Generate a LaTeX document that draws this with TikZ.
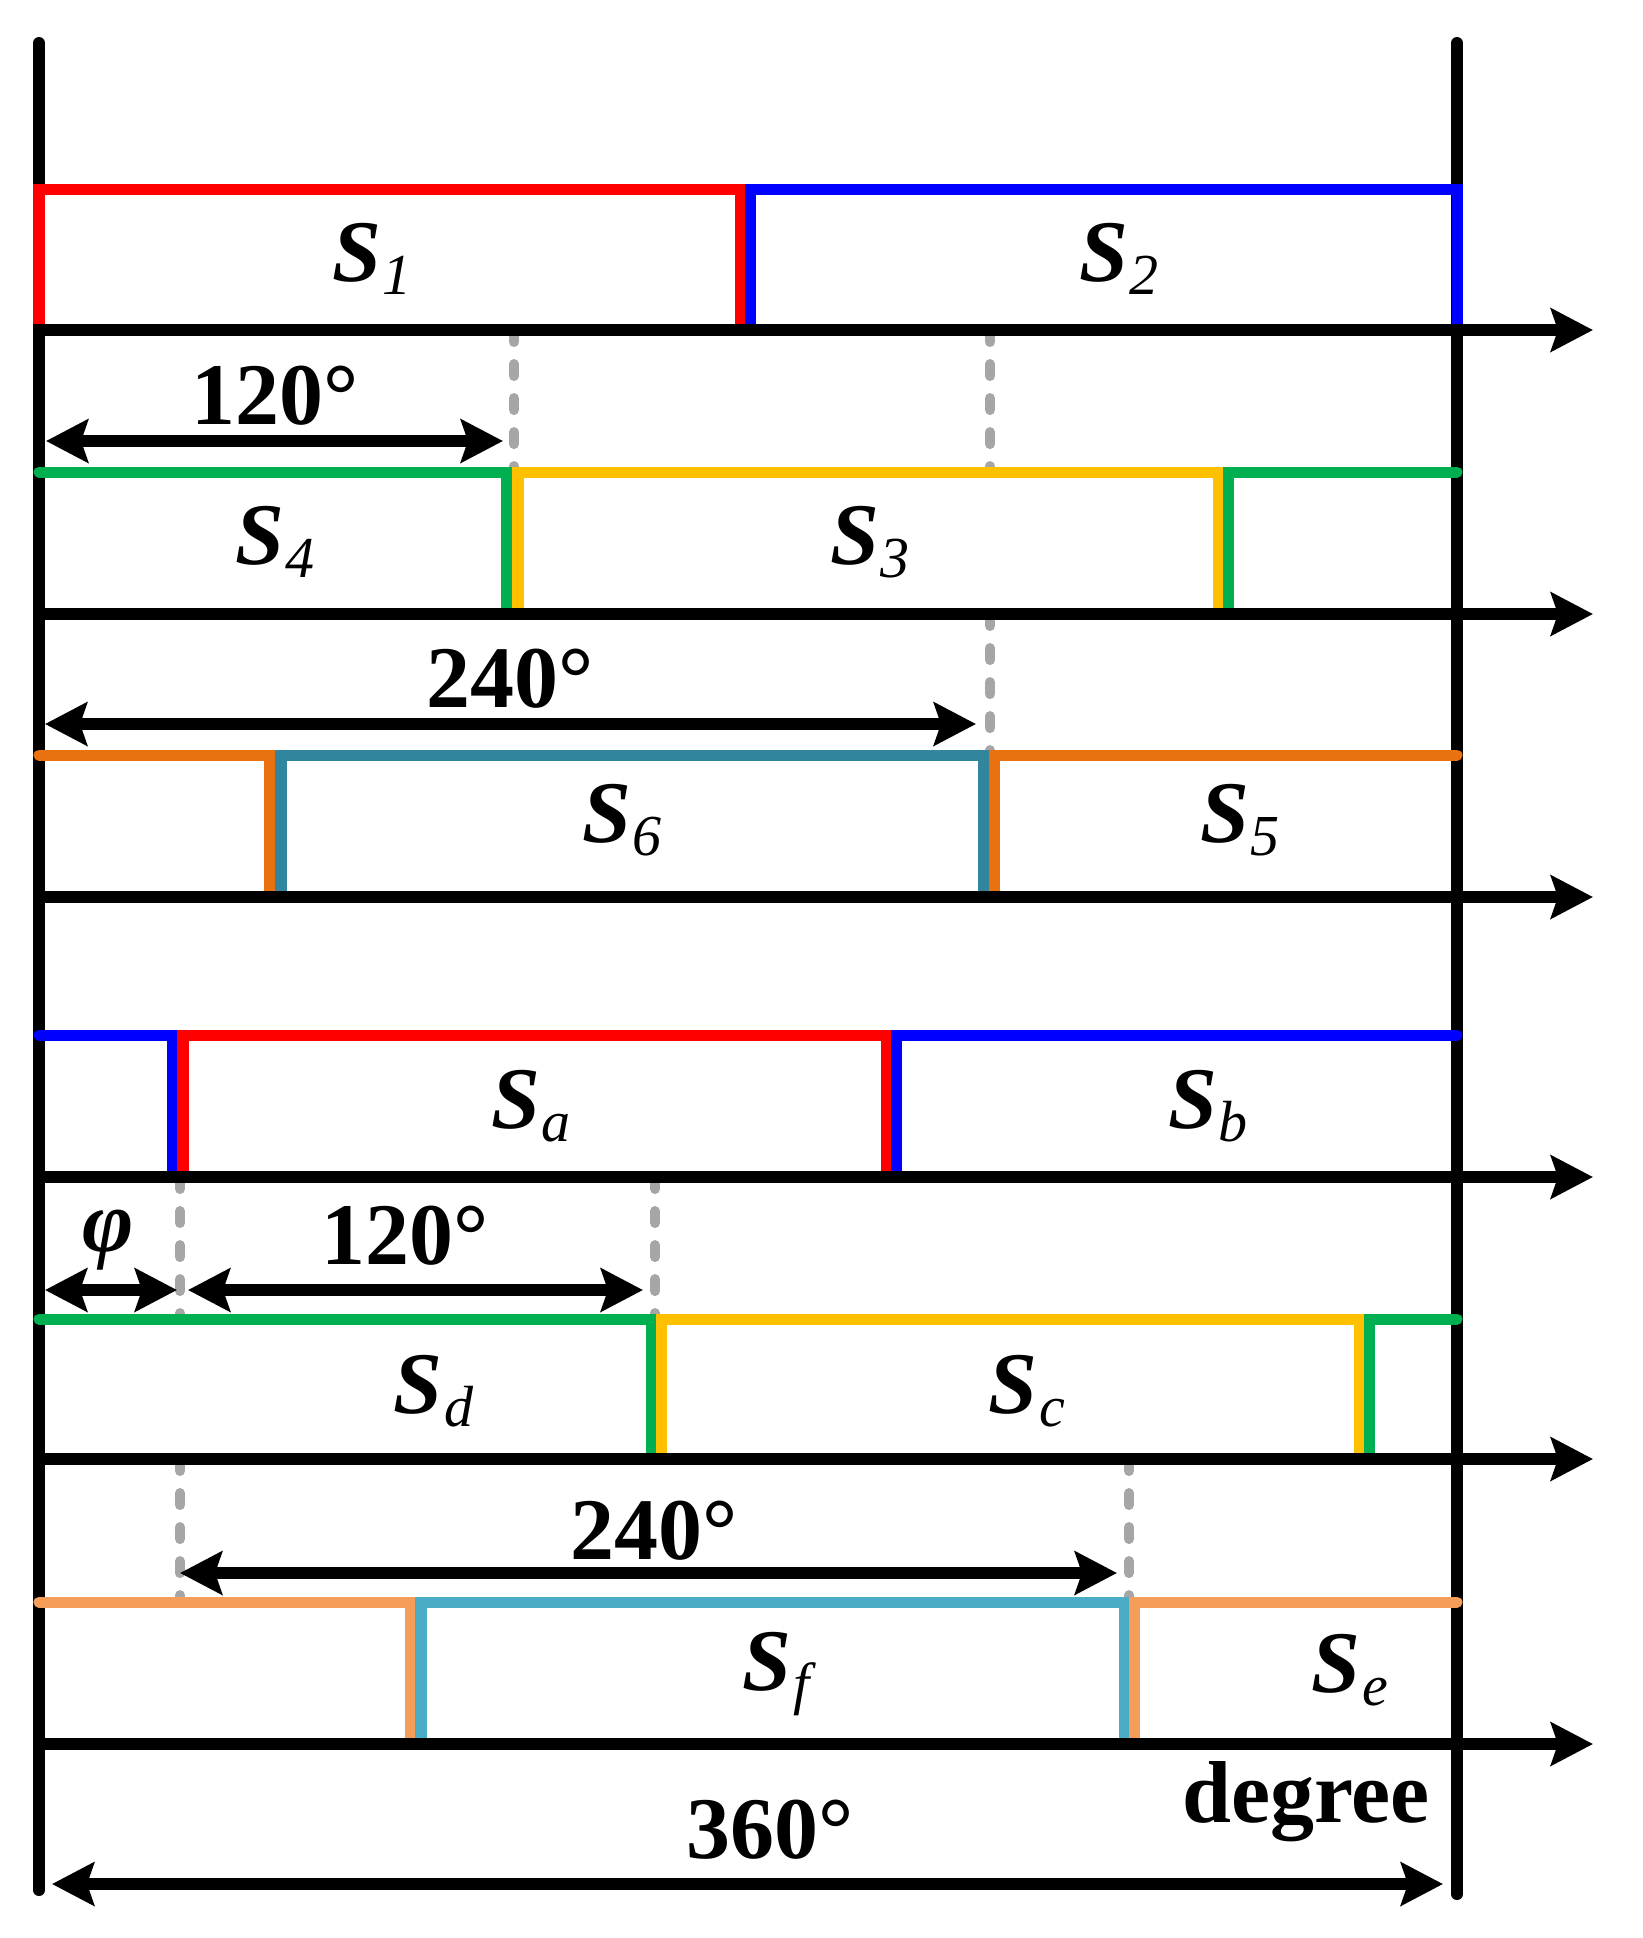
\documentclass[tikz,border=0pt]{standalone}
\usepackage{fontspec}
\setmainfont{Liberation Serif}
\usetikzlibrary{arrows.meta}
\definecolor{cred}{HTML}{FF0000}
\definecolor{cblue}{HTML}{0000FF}
\definecolor{cgreen}{HTML}{00B050}
\definecolor{cyellow}{HTML}{FFC000}
\definecolor{corange}{HTML}{EA7110}
\definecolor{cteal}{HTML}{31859C}
\definecolor{clorange}{HTML}{F59E5A}
\definecolor{ccyan}{HTML}{4BACC6}
\definecolor{cgray}{HTML}{A6A6A6}
\newcommand{\Sx}[1]{\textbf{\textit{S}}\kern0.02cm\raisebox{-0.13cm}{\fontsize{16.5}{16.5}\selectfont\textit{#1}}}
\begin{document}
\begin{tikzpicture}[x=0.01cm,y=-0.01cm,
  tip/.tip={Stealth[length=0.42cm,width=0.43cm,inset=0.07cm]},
  axisline/.style={line width=0.12cm,-tip},
  vaxis/.style={line width=0.12cm,line cap=round},
  dimline/.style={line width=0.12cm,tip-tip},
  sig/.style={line width=0.11cm,line cap=round,line join=miter},
  guide/.style={line width=0.1cm,cgray,dash pattern=on 0.12cm off 0.22cm,line cap=round},
  lbl/.style={font=\fontsize{25}{30}\selectfont,inner sep=0pt}]
\useasboundingbox (0,0) rectangle (1643,1938);
\fill[white] (0,0) rectangle (1643,1938);
% vertical axes
\coordinate (LT) at (39,43);
\coordinate (LB) at (39,1890);
\coordinate (RT) at (1457,43);
\coordinate (RB) at (1457,1894);
\draw[vaxis] (LT) -- (LB);
\draw[vaxis] (RT) -- (RB);
% guides
\draw[guide] (514,330) -- (514,472);
\draw[guide] (990,330) -- (990,472);
\draw[guide] (990,614) -- (990,755);
\draw[guide] (180,1177) -- (180,1319);
\draw[guide] (655,1177) -- (655,1319);
\draw[guide] (180,1459) -- (180,1602);
\draw[guide] (1129,1459) -- (1129,1602);
% row 1
\draw[sig,cred] (39,330) -- (39,189) -- (740,189) -- (740,330);
\draw[sig,cblue] (750,330) -- (750,189) -- (1457,189) -- (1457,330);
% row 2
\draw[sig,cgreen] (39,472) -- (507,472) -- (507,614);
\draw[sig,cyellow] (518,614) -- (518,472) -- (1218,472) -- (1218,614);
\draw[sig,cgreen] (1228,614) -- (1228,472) -- (1457,472);
% row 3
\draw[sig,corange] (39,755) -- (270,755) -- (270,897);
\draw[sig,cteal] (281,897) -- (281,755) -- (983,755) -- (983,897);
\draw[sig,corange] (994,897) -- (994,755) -- (1457,755);
% row 4
\draw[sig,cblue] (39,1035) -- (173,1035) -- (173,1177);
\draw[sig,cred] (183,1177) -- (183,1035) -- (886,1035) -- (886,1177);
\draw[sig,cblue] (896,1177) -- (896,1035) -- (1457,1035);
% row 5
\draw[sig,cgreen] (39,1319) -- (651,1319) -- (651,1459);
\draw[sig,cyellow] (661,1459) -- (661,1319) -- (1359,1319) -- (1359,1459);
\draw[sig,cgreen] (1369,1459) -- (1369,1319) -- (1457,1319);
% row 6
\draw[sig,clorange] (39,1602) -- (411,1602) -- (411,1744);
\draw[sig,ccyan] (421,1744) -- (421,1602) -- (1124,1602) -- (1124,1744);
\draw[sig,clorange] (1134,1744) -- (1134,1602) -- (1457,1602);
% horizontal axes
\foreach \n/\y in {1/330,2/614,3/897,4/1177,5/1459,6/1744}{
  \coordinate (A\n s) at (33,\y);
  \coordinate (A\n e) at (1593,\y);
  \draw[axisline] (A\n s) -- (A\n e);
}
% dimension arrows
\coordinate (D1a) at (46,441);   \coordinate (D1b) at (503,441);
\coordinate (D2a) at (45,724);   \coordinate (D2b) at (976,724);
\coordinate (D3a) at (45,1290);  \coordinate (D3b) at (177,1290);
\coordinate (D4a) at (188,1290); \coordinate (D4b) at (643,1290);
\coordinate (D5a) at (180,1573); \coordinate (D5b) at (1117,1573);
\coordinate (D6a) at (52,1884);  \coordinate (D6b) at (1443,1884);
\draw[dimline] (D1a) -- (D1b);
\draw[dimline] (D2a) -- (D2b);
\draw[dimline] (D3a) -- (D3b);
\draw[dimline] (D4a) -- (D4b);
\draw[dimline] (D5a) -- (D5b);
\draw[dimline] (D6a) -- (D6b);
% labels
\node[lbl] (t120a) at (275,396) {\textbf{120°}};
\node[lbl] (t240a) at (510,679) {\textbf{240°}};
\node[lbl] (tphi) at (108,1240) {\textbf{\textit{φ}}};
\node[lbl] (t120b) at (405,1236) {\textbf{120°}};
\node[lbl] (t240b) at (654,1531) {\textbf{240°}};
\node[lbl] (t360) at (770,1830) {\textbf{360°}};
\node[lbl] (tdeg) at (1306,1802) {\textbf{degree}};
\node[lbl] (s1) at (372,259) {\Sx{1}};
\node[lbl] (s2) at (1119,259) {\Sx{2}};
\node[lbl] (s4) at (275,542) {\Sx{4}};
\node[lbl] (s3) at (870,542) {\Sx{3}};
\node[lbl] (s6) at (622,820) {\Sx{6}};
\node[lbl] (s5) at (1240,820) {\Sx{5}};
\node[lbl] (sa) at (531,1106) {\Sx{a}};
\node[lbl] (sb) at (1208,1106) {\Sx{b}};
\node[lbl] (sd) at (434,1391) {\Sx{d}};
\node[lbl] (sc) at (1027,1391) {\Sx{c}};
\node[lbl] (sf) at (779,1674) {\Sx{f}};
\node[lbl] (se) at (1350,1670) {\Sx{e}};
\end{tikzpicture}
\end{document}
